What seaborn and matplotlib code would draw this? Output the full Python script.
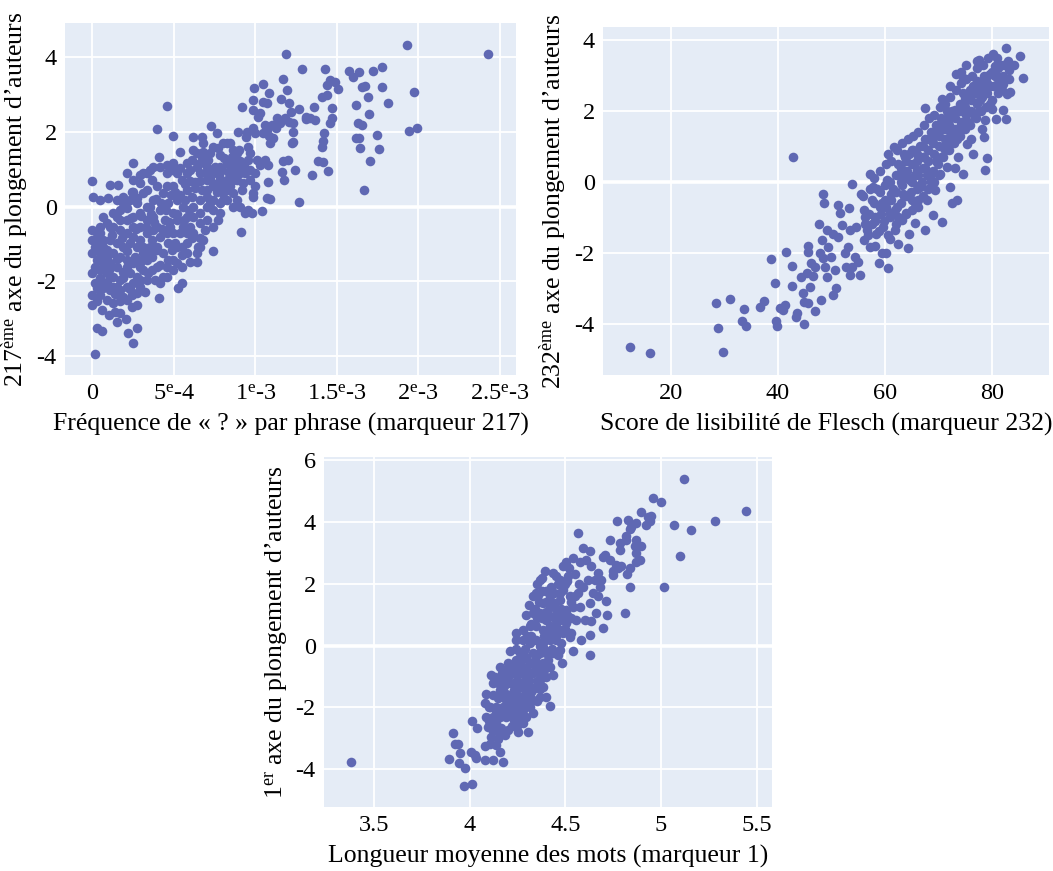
import numpy as np
import pandas as pd
import matplotlib
matplotlib.use("Agg")
import matplotlib.pyplot as plt
import seaborn as sns

# ---------------- data ----------------
# Panel 1: frequency of "?" per sentence (x, in units of 1e-3) vs 217th embedding axis
p1_points_e3 = [
    (1.928, 4.33), (2.429, 4.09), (1.188, 4.09), (1.284, 3.69), (1.427, 3.68), (1.577, 3.63),
    (1.638, 3.62), (1.720, 3.64), (1.775, 3.75), (1.601, 3.46), (1.458, 3.39), (1.489, 3.35),
    (1.505, 3.14), (1.438, 3.26), (1.652, 3.21), (1.673, 3.23), (1.779, 3.20), (1.973, 3.06),
    (1.693, 2.93), (1.812, 2.79), (1.618, 2.72), (1.699, 2.47), (1.632, 2.23), (1.652, 2.19),
    (1.945, 2.03), (1.990, 2.10), (1.748, 1.92), (1.618, 1.85), (1.638, 1.85), (1.644, 1.58),
    (1.759, 1.54), (1.704, 1.21), (1.669, 0.44), (1.407, 2.95), (1.443, 2.99), (1.360, 2.68),
    (1.468, 2.63), (1.472, 2.37), (1.458, 2.23), (1.421, 1.96), (1.413, 1.76), (1.407, 1.61),
    (1.387, 1.21), (1.417, 1.19), (1.448, 0.96), (1.346, 0.85), (1.266, 0.12), (1.311, 2.39),
    (1.335, 2.37), (1.366, 2.32), (1.268, 2.61), (1.313, 2.34), (1.233, 1.99), (1.233, 1.74),
    (1.223, 1.70), (1.202, 1.25), (1.172, 1.21), (1.243, 0.98), (1.162, 0.92), (1.178, 0.71),
    (1.192, 3.13), (1.172, 3.42), (1.155, 2.88), (1.208, 2.79), (1.217, 2.54), (1.182, 2.37),
    (1.131, 2.37), (1.208, 2.28), (1.233, 2.23), (1.151, 2.23), (1.125, 2.10), (1.100, 2.19),
    (1.049, 3.28), (0.992, 3.17), (1.086, 3.04), (0.988, 2.86), (1.049, 2.81), (1.070, 2.77),
    (0.916, 2.66), (0.988, 2.59), (1.029, 2.50), (1.018, 2.41), (0.988, 2.10), (1.059, 2.19),
    (1.070, 2.05), (1.086, 1.88), (1.110, 1.83), (1.090, 1.70), (1.049, 1.96), (0.998, 1.96),
    (0.947, 2.01), (0.896, 2.01), (0.943, 1.86), (0.957, 1.61), (0.967, 1.43), (0.902, 1.52),
    (0.824, 1.70), (0.804, 1.70), (0.763, 1.96), (0.726, 2.16), (0.772, 1.56), (0.783, 1.38),
    (0.742, 1.61), (0.681, 1.70), (0.671, 1.86), (0.620, 1.86), (0.616, 1.52), (0.671, 1.34),
    (0.712, 1.25), (0.753, 1.07), (0.793, 0.98), (0.824, 1.16), (0.865, 1.07), (0.906, 1.21),
    (0.957, 1.25), (1.008, 1.25), (1.059, 1.25), (1.029, 1.12), (1.080, 1.12), (1.080, 0.67),
    (1.070, 0.22), (1.039, -0.11), (1.090, 0.21), (0.988, 0.27), (0.998, 0.54), (0.967, 0.71),
    (0.988, 0.36), (0.957, -0.09), (0.937, -0.16), (0.980, -0.18), (0.910, -0.69), (0.906, 0.00),
    (0.865, 0.00), (0.885, 0.18), (0.865, 0.36), (0.916, 0.45), (0.937, 0.89), (0.906, 0.89),
    (0.865, 0.71), (0.845, 0.98), (0.783, 0.71), (0.793, 0.54), (0.824, 0.45), (0.804, 0.36),
    (0.763, 0.40), (0.742, 0.54), (0.701, 0.71), (0.660, 0.89), (0.640, 1.07), (0.599, 0.98),
    (0.630, 0.67), (0.671, 0.45), (0.701, 0.27), (0.722, 0.09), (0.742, -0.09), (0.773, -0.36),
    (0.742, -0.54), (0.691, -0.63), (0.660, -0.85), (0.650, -1.07), (0.640, -1.47), (0.599, -1.47),
    (0.742, -1.18), (0.681, -0.89), (0.701, -0.36), (0.660, -0.18), (0.620, 0.00), (0.609, 0.27),
    (0.579, 0.45), (0.548, 0.71), (0.538, 1.03), (0.487, 0.98), (0.456, 0.89), (0.415, 1.07),
    (0.411, 1.34), (0.395, 2.08), (0.460, 2.70), (0.493, 1.89), (0.538, 1.47), (0.548, -2.05),
    (0.528, -2.19), (0.548, -1.61), (0.517, -1.52), (0.497, -1.43), (0.487, -1.16), (0.548, -1.29),
    (0.579, -0.98), (0.538, -0.71), (0.558, -0.54), (0.517, -0.36), (0.497, -0.18), (0.466, 0.09),
    (0.436, 0.36), (0.395, 0.54), (0.364, 0.71), (0.354, 0.98), (0.313, 0.89), (0.252, 0.71),
    (0.211, 0.89), (0.247, 1.18), (0.292, 0.85), (0.333, 0.45), (0.374, 0.18), (0.415, -0.09),
    (0.446, -0.36), (0.456, -0.71), (0.466, -0.98), (0.436, -1.25), (0.415, -1.56), (0.456, -1.61),
    (0.411, -2.46), (0.395, -1.16), (0.364, -0.89), (0.374, -0.63), (0.333, -0.36), (0.292, -0.18),
    (0.272, 0.09), (0.231, 0.18), (0.190, 0.27), (0.149, 0.18), (0.108, 0.58), (0.160, 0.58),
    (0.098, 0.22), (0.047, 0.18), (0.006, 0.25), (0.000, 0.69), (0.170, -0.09), (0.211, -0.04),
    (0.252, -0.27), (0.292, -0.54), (0.333, -0.71), (0.354, -1.07), (0.333, -1.43), (0.313, -1.70),
    (0.292, -1.96), (0.323, -2.28), (0.272, -2.32), (0.272, -2.63), (0.272, -3.26), (0.221, -3.39),
    (0.252, -3.66), (0.016, -3.95), (0.027, -3.26), (0.057, -3.33), (0.057, -2.77), (0.102, -2.90),
    (0.139, -2.81), (0.149, -3.08), (0.170, -2.86), (0.207, -3.02), (0.241, -2.68), (0.211, -2.50),
    (0.170, -2.54), (0.129, -2.59), (0.088, -2.50), (0.047, -2.37), (0.000, -2.37), (0.000, -2.63),
    (0.027, -2.54), (-0.004, -1.79), (0.016, -2.05), (0.047, -1.92), (0.088, -2.01), (0.129, -2.14),
    (0.170, -2.23), (0.211, -2.14), (0.252, -2.05), (0.272, -1.88), (0.231, -1.79), (0.190, -1.74),
    (0.149, -1.61), (0.108, -1.52), (0.067, -1.61), (0.027, -1.43), (0.000, -1.25), (0.047, -1.25),
    (0.088, -1.34), (0.129, -1.25), (0.170, -1.34), (0.211, -1.43), (0.252, -1.52), (0.292, -1.61),
    (0.313, -1.25), (0.272, -1.07), (0.231, -0.98), (0.190, -1.07), (0.149, -0.98), (0.108, -0.89),
    (0.067, -0.89), (0.027, -0.80), (0.000, -0.63), (0.000, -0.88), (0.047, -0.54), (0.088, -0.45),
    (0.129, -0.54), (0.170, -0.63), (0.211, -0.71), (0.252, -0.80), (0.292, -0.89), (0.313, -1.07),
    (0.170, -0.36), (0.211, -0.36), (0.252, -0.54), (0.067, -0.27), (0.129, -0.18), (0.241, 0.40),
    (0.313, 0.36), (0.354, 0.00), (0.374, -0.27), (0.395, -0.54), (0.415, -0.80), (0.395, -1.07),
    (0.364, -1.34), (0.364, -1.70), (0.385, -1.96), (0.211, -1.61), (0.170, -1.96), (0.129, -1.88),
    (0.047, -1.70), (0.027, -2.19), (0.067, -2.19), (0.333, 0.00), (0.456, 0.54), (0.497, 0.54),
    (0.517, 0.18), (0.558, 0.00), (0.579, -0.27), (0.599, -0.54), (0.620, -0.71), (0.579, -0.71),
    (0.497, -0.71), (0.476, -0.54), (0.507, -0.98), (0.497, -1.70), (0.436, -1.88), (0.395, -1.61),
    (0.660, 0.18), (0.701, 0.45), (0.742, 0.18), (0.783, 0.09), (0.824, 0.18), (0.845, 0.54),
    (0.865, 0.89), (0.885, 0.71), (0.926, 0.63), (0.967, 0.98), (0.998, 0.89), (0.742, 0.89),
    (0.701, 1.07), (0.660, 1.16), (0.579, 1.16), (0.579, 0.89), (0.517, 0.89), (0.568, 0.18),
    (0.620, -0.27), (0.660, -0.45), (0.701, 0.00), (0.783, -0.18), (0.804, 0.18), (0.824, 0.71),
    (0.855, 1.34), (0.885, 1.43), (0.865, 1.52), (0.845, 1.70), (0.783, 1.07), (0.722, 1.43),
    (0.681, 1.47), (0.640, 1.43), (0.609, 1.25), (0.497, 1.16), (0.456, 1.12), (0.374, 1.07),
    (0.333, 0.89), (0.292, 0.63), (0.252, 0.40), (0.272, 0.22), (0.190, 0.09), (0.149, -0.27),
    (0.108, -0.54), (0.047, -0.71), (0.016, -1.07), (0.016, -1.61), (0.067, -1.07), (0.088, -1.79),
    (0.149, -2.14), (0.108, -2.23), (0.190, -2.41), (0.241, -2.37), (0.292, -2.14), (0.333, -1.96),
    (0.344, -1.79), (0.415, -2.05), (0.456, -1.88), (0.466, -1.43), (0.517, -1.07), (0.548, -1.07),
    (0.579, -1.25), (0.609, -0.85), (0.640, -1.25), (0.660, -1.07),
    (0.03, -1.00), (0.06, -1.45), (0.09, -1.15), (0.12, -0.75), (0.15, -1.40), (0.18, -0.85),
    (0.21, -1.20), (0.24, -0.30), (0.27, -0.60), (0.30, -0.25), (0.33, -0.55), (0.36, -0.20),
    (0.39, 0.20), (0.42, 0.10), (0.45, -0.10), (0.48, 0.30), (0.51, 0.40), (0.54, 0.30),
    (0.57, 0.60), (0.60, 0.70), (0.63, 0.50), (0.66, 0.70), (0.69, 0.90), (0.72, 0.75),
    (0.75, 0.60), (0.78, 0.85), (0.81, 1.30), (0.84, 0.90), (0.87, 1.20), (0.90, 1.00),
    (0.93, 1.10), (0.05, -2.05), (0.10, -1.70), (0.14, -2.35), (0.19, -1.90), (0.23, -2.20),
    (0.26, -1.35), (0.30, -1.45), (0.35, -1.25), (0.38, -0.40), (0.43, -0.60), (0.47, -0.40),
    (0.52, -0.20), (0.56, -0.35), (0.59, -0.10),
]

# Panel 2: Flesch reading-ease score vs 232nd embedding axis
p2_points = [
    (12.3, -4.65), (16.2, -4.84), (29.7, -4.79), (28.4, -3.41), (28.9, -4.13), (31.0, -3.31),
    (33.6, -3.60), (33.3, -3.94), (34.1, -4.08), (36.6, -3.52), (37.4, -3.35), (38.8, -2.19),
    (39.4, -2.86), (39.8, -4.08), (39.6, -3.94), (40.4, -3.57), (40.9, -3.62), (41.3, -3.47),
    (41.5, -1.99), (42.6, -2.38), (42.9, 0.70), (42.7, -2.94), (43.5, -3.69), (43.4, -3.80),
    (44.9, -4.02), (44.9, -3.38), (44.7, -3.13), (44.4, -2.68), (45.4, -2.58), (45.7, -1.97),
    (45.7, -1.81), (46.2, -2.30), (46.0, -2.96), (45.7, -3.43), (46.9, -3.64), (46.9, -2.39),
    (46.5, -2.66), (47.7, -1.20), (47.9, -2.00), (48.5, -0.33), (48.6, -0.59), (48.3, -1.64),
    (48.0, -3.33), (48.5, -2.16), (48.8, -2.39), (49.1, -2.68), (49.1, -1.36), (49.4, -1.83),
    (50.3, -1.46), (50.0, -2.11), (50.7, -2.49), (50.9, -3.00), (50.3, -3.19), (51.3, -1.55),
    (51.3, -0.66), (51.6, -0.89), (51.9, -1.22), (52.5, -2.02), (52.8, -2.39), (53.1, -1.83),
    (53.5, -1.36), (53.3, -0.75), (53.8, -0.07), (53.5, -2.63), (53.9, -2.39), (54.4, -2.11),
    (54.6, -1.27), (55.0, -2.25), (55.3, -2.63), (55.6, -0.33), (56.0, -1.64), (56.3, -0.99),
    (56.6, -1.36), (57.2, 0.23), (57.2, -1.83), (57.5, -0.52), (57.8, -0.14), (58.1, -0.99),
    (58.4, -1.46), (58.8, -2.30), (59.1, -0.70), (59.4, -2.02), (59.7, -1.27), (60.0, -0.52),
    (60.2, -2.02), (60.6, -2.44), (60.3, 0.05), (60.9, -0.89), (61.6, 0.99), (60.6, 0.80),
    (61.2, -0.33), (61.9, -1.36), (62.2, -0.70), (62.5, -1.74), (62.8, 0.23), (63.1, -1.08),
    (63.4, -0.33), (63.7, 0.70), (64.0, -0.89), (64.2, -1.88), (64.4, -1.46), (64.7, 0.05),
    (65.0, -0.52), (65.3, 0.89), (65.6, -1.17), (65.9, 0.33), (66.2, -0.70), (66.5, -0.14),
    (67.2, 0.70), (67.5, -1.36), (67.8, -0.52), (67.5, 2.09), (68.4, 0.14), (68.7, 1.17),
    (69.0, -0.94), (69.3, -0.23), (69.7, 0.61), (70.0, 1.55), (70.3, 0.23), (70.6, -1.13),
    (70.9, 0.99), (70.7, 2.35), (71.5, 0.42), (71.8, 1.74), (72.2, -0.14), (72.5, -0.61),
    (72.8, 1.27), (73.4, -0.52), (73.1, 2.02), (73.3, 3.05), (73.7, 0.70), (74.0, 1.55),
    (74.6, 2.93), (74.6, 0.23), (74.9, 2.30), (75.3, 1.08), (75.9, 2.58), (76.5, 0.80),
    (76.8, 1.83), (77.1, 2.86), (77.6, 3.45), (77.8, 2.30), (78.4, 1.27), (78.7, 0.33),
    (79.1, 0.66), (78.7, 1.74), (79.3, 2.68), (79.6, 3.05), (79.9, 2.07), (80.7, 1.77),
    (80.6, 3.26), (81.5, 2.96), (82.1, 2.02), (82.6, 1.77), (82.6, 3.77), (82.7, 2.49),
    (83.2, 3.15), (83.4, 2.54), (85.1, 3.55), (85.7, 2.93), (82.0, 2.77), (80.9, 2.68),
    (56.0, -0.8), (56.2, -1.2), (55.8, -0.4), (57.0, -0.9), (57.1, -0.2), (56.9, -1.5),
    (58.0, -0.6), (58.2, -1.1), (57.9, 0.1), (58.1, -1.8), (59.0, -0.3), (59.2, -0.9),
    (58.9, -1.4), (59.1, 0.3), (60.0, -0.1), (60.1, -0.7), (59.8, -1.1), (60.2, 0.5),
    (61.0, 0.0), (61.1, -0.5), (60.9, -1.0), (61.2, 0.6), (61.0, -1.6), (62.0, 0.2),
    (62.1, -0.3), (61.9, -0.8), (62.2, 0.9), (62.0, -1.2), (63.0, 0.4), (63.1, -0.1),
    (62.9, -0.6), (63.2, 1.1), (63.0, 0.0), (64.0, 0.6), (64.1, 0.1), (63.9, -0.4),
    (64.2, 1.2), (64.0, -0.9), (64.1, 0.3), (65.0, 0.5), (65.1, 0.0), (64.9, -0.3),
    (65.2, 1.3), (65.0, 0.9), (65.1, -0.8), (66.0, 0.8), (66.1, 0.2), (65.9, -0.2),
    (66.2, 1.4), (66.0, 0.6), (66.1, -0.5), (67.0, 1.0), (67.1, 0.4), (66.9, 0.0),
    (67.2, 1.6), (67.0, 0.7), (67.1, -0.4), (68.0, 1.2), (68.1, 0.6), (67.9, 0.2),
    (68.2, 1.8), (68.0, 0.9), (68.1, -0.2), (69.0, 1.4), (69.1, 0.8), (68.9, 0.3),
    (69.2, 1.9), (69.0, 1.1), (69.1, 0.0), (70.0, 1.5), (70.1, 1.0), (69.9, 0.5),
    (70.2, 2.1), (70.0, 1.3), (70.1, 0.2), (71.0, 1.7), (71.1, 1.2), (70.9, 0.7),
    (71.2, 2.2), (71.0, 1.5), (71.1, 0.9), (72.0, 1.9), (72.1, 1.4), (71.9, 0.9),
    (72.2, 2.4), (72.0, 1.6), (72.1, 2.7), (73.0, 2.0), (73.1, 1.5), (72.9, 1.1),
    (73.2, 2.6), (73.0, 1.8), (73.1, 0.4), (74.0, 2.2), (74.1, 1.7), (73.9, 1.3),
    (74.2, 2.8), (74.0, 2.0), (74.1, 3.1), (75.0, 2.4), (75.1, 1.9), (74.9, 1.5),
    (75.2, 2.9), (75.0, 2.1), (75.1, 3.3), (76.0, 2.5), (76.1, 2.0), (75.9, 1.6),
    (76.2, 3.0), (76.0, 2.3), (76.1, 1.2), (77.0, 2.7), (77.1, 2.2), (76.9, 1.8),
    (77.2, 3.2), (77.0, 2.5), (77.1, 3.4), (78.0, 2.8), (78.1, 2.4), (77.9, 2.0),
    (78.2, 3.3), (78.0, 2.6), (78.1, 1.5), (79.0, 3.0), (79.1, 2.5), (78.9, 2.1),
    (79.2, 3.5), (79.0, 2.8), (80.0, 3.1), (80.1, 2.7), (79.9, 2.3), (80.2, 3.6),
    (81.0, 3.2), (81.1, 2.8), (80.9, 3.5), (81.0, 2.5), (82.0, 3.3), (82.1, 3.0),
    (81.9, 2.6), (83.0, 3.4), (83.1, 2.9), (84.0, 3.3),
    (60.5, -1.5), (61.5, -0.2), (62.5, 0.5), (63.5, -0.4), (64.5, 0.8), (65.5, 0.2),
    (66.5, 1.0), (67.5, 0.4), (68.5, 1.4), (69.5, 0.6), (70.5, 1.8), (71.5, 1.0),
    (72.5, 2.0), (73.5, 1.2), (74.5, 2.5), (75.5, 1.7), (76.5, 2.7), (77.5, 2.0),
    (78.5, 3.0), (79.5, 2.2), (80.5, 3.0), (81.5, 3.3), (65.5, -0.6), (66.5, -0.1),
    (67.5, 1.2), (68.5, 0.0), (69.5, 1.6), (70.5, 0.7), (71.5, 2.0), (72.5, 1.2),
    (59.5, -0.6), (58.5, -0.2), (57.5, -1.2), (62.5, -1.0), (63.5, 0.8),
]

# Panel 3: mean word length vs 1st embedding axis
p3_points = [
    (3.378, -3.76), (3.890, -3.68), (3.913, -2.82), (3.922, -3.19), (3.939, -3.19), (3.948, -3.46),
    (3.944, -3.79), (3.974, -3.95), (3.969, -4.55), (4.014, -4.46), (4.012, -2.44), (4.009, -3.44),
    (4.026, -3.55), (4.035, -3.65), (4.038, -2.65),
    (5.120, 5.39), (4.958, 4.76), (4.998, 4.64), (5.442, 4.35), (5.280, 4.02), (5.066, 3.91),
    (5.155, 3.75), (5.098, 2.89), (5.014, 1.88), (4.897, 4.31), (4.932, 4.16), (4.950, 4.18),
    (4.941, 4.02), (4.920, 3.91), (4.871, 3.97), (4.828, 4.05), (4.772, 4.02), (4.845, 3.84),
    (4.836, 3.77), (4.815, 3.54), (4.819, 3.43), (4.868, 3.43), (4.897, 3.23), (4.862, 3.21),
    (4.871, 2.99), (4.889, 2.76), (4.871, 2.72), (4.784, 3.32), (4.784, 3.10), (4.735, 3.41),
    (4.706, 2.94), (4.697, 2.86), (4.732, 2.78), (4.767, 2.62), (4.775, 2.51), (4.793, 2.56),
    (4.836, 2.51), (4.749, 2.40), (4.749, 2.29), (4.821, 2.32), (4.836, 1.88), (4.810, 1.05),
    (4.566, 3.64), (4.688, 2.11), (4.714, 1.43), (4.718, 0.99), (4.697, 0.56), (4.627, -0.30),
    (4.484, -0.57), (4.418, -1.95), (4.627, 0.35), (4.584, 0.18), (4.601, 0.83), (4.636, 0.78),
    (4.627, 1.37), (4.645, 1.70), (4.662, 1.05), (4.671, 1.59), (4.679, 1.91), (4.653, 2.13),
    (4.671, 2.35), (4.636, 2.56), (4.618, 2.13), (4.592, 1.91), (4.566, 1.70), (4.575, 1.26),
    (4.557, 0.83), (4.531, 0.40), (4.540, -0.19), (4.627, 3.05), (4.592, 3.16), (4.610, 2.78),
    (4.575, 2.72), (4.540, 2.83), (4.505, 2.72), (4.488, 2.56), (4.514, 2.24), (4.470, 2.13),
    (4.453, 2.24), (4.436, 2.35), (4.392, 2.40), (4.366, 2.13), (4.427, 1.91), (4.401, 1.75),
    (4.348, 1.70), (4.357, 1.64), (4.488, 1.81), (4.523, 1.59), (4.540, 1.26), (4.505, 1.16),
    (4.470, 1.48), (4.444, 1.37), (4.418, 1.26), (4.383, 1.37), (4.366, 1.05), (4.331, 1.05),
    (4.296, 0.99), (4.401, 0.83), (4.436, 0.94), (4.470, 0.83), (4.505, 0.72), (4.523, 0.29),
    (4.488, 0.40), (4.453, 0.51), (4.418, 0.62), (4.383, 0.51), (4.348, 0.62), (4.314, 0.62),
    (4.279, 0.51), (4.244, 0.40), (4.240, 0.18), (4.279, 0.18), (4.314, 0.08), (4.348, 0.18),
    (4.383, 0.08), (4.418, 0.18), (4.453, 0.18), (4.470, -0.14), (4.436, -0.25), (4.401, -0.25),
    (4.366, -0.25), (4.331, -0.25), (4.296, -0.36), (4.261, -0.25), (4.209, -0.19), (4.244, -0.46),
    (4.279, -0.68), (4.314, -0.57), (4.348, -0.68), (4.383, -0.57), (4.418, -0.68), (4.436, -0.95),
    (4.401, -1.01), (4.366, -0.90), (4.331, -0.90), (4.296, -1.01), (4.261, -0.90), (4.226, -0.90),
    (4.192, -0.78), (4.157, -0.68), (4.174, -1.11), (4.209, -1.22), (4.244, -1.33), (4.279, -1.22),
    (4.314, -1.33), (4.348, -1.33), (4.383, -1.33), (4.401, -1.66), (4.366, -1.66), (4.331, -1.76),
    (4.296, -1.65), (4.261, -1.65), (4.226, -1.65), (4.192, -1.55), (4.157, -1.44), (4.122, -1.22),
    (4.113, -0.95), (4.087, -1.55), (4.078, -1.87), (4.105, -1.98), (4.139, -1.98), (4.174, -1.98),
    (4.209, -1.98), (4.244, -1.98), (4.279, -2.09), (4.314, -1.98), (4.331, -2.19), (4.296, -2.30),
    (4.261, -2.41), (4.226, -2.30), (4.192, -2.30), (4.157, -2.30), (4.122, -2.30), (4.087, -2.30),
    (4.096, -2.63), (4.131, -2.63), (4.166, -2.68), (4.201, -2.74), (4.253, -2.79), (4.305, -2.79),
    (4.113, -2.95), (4.148, -3.01), (4.183, -2.90), (4.105, -3.17), (4.139, -3.22), (4.157, -3.44),
    (4.078, -3.24), (4.082, -3.71), (4.122, -3.71), (4.174, -3.76),
    (4.310, 1.30), (4.330, 1.60), (4.350, 2.00), (4.380, 2.20), (4.400, 1.10), (4.420, 1.60),
    (4.460, 1.00), (4.480, 1.20), (4.500, 2.00), (4.520, 2.50), (4.450, 0.70), (4.430, 0.30),
    (4.390, 0.30), (4.350, 0.90), (4.320, 0.30), (4.290, -0.10), (4.270, -0.50), (4.300, -0.80),
    (4.340, -0.45), (4.370, -1.10), (4.320, -1.50), (4.250, -1.10), (4.230, -1.45), (4.200, -0.55),
    (4.180, -1.30), (4.150, -1.70), (4.140, -2.10), (4.190, -2.10), (4.220, -2.60), (4.270, -1.85),
    (4.240, -2.15), (4.120, -1.60), (4.100, -2.45), (4.160, -2.90), (4.280, -2.50), (4.350, -1.15),
    (4.410, -0.45), (4.460, -0.30), (4.480, 0.10), (4.500, 0.55), (4.420, 0.95), (4.380, 1.75),
    (4.19, -1.75), (4.21, -1.60), (4.23, -1.85), (4.25, -1.40), (4.27, -1.20), (4.29, -1.45),
    (4.31, -1.10), (4.33, -0.60), (4.35, -0.30), (4.37, 0.00), (4.39, -0.10), (4.41, 0.40),
    (4.43, 0.60), (4.45, 1.20), (4.47, 1.70), (4.49, 1.90), (4.51, 2.10), (4.53, 1.40),
    (4.55, 2.30), (4.57, 2.00), (4.26, -0.70), (4.28, -0.30), (4.30, 0.30), (4.32, 0.70),
    (4.34, 1.20), (4.36, 1.40), (4.38, 0.90), (4.40, 1.40), (4.42, 1.40), (4.44, 1.70),
    (4.46, 2.00), (4.24, -0.10), (4.22, -0.70), (4.20, -1.00), (4.18, -1.60), (4.16, -2.20),
    (4.14, -2.50), (4.12, -2.75), (4.10, -2.00), (4.13, -1.00), (4.15, -1.20), (4.17, -0.90),
    (4.21, -2.10), (4.23, -2.40), (4.25, -2.60), (4.27, -2.20), (4.29, -2.00), (4.31, -1.80),
    (4.33, -1.40), (4.35, -1.80), (4.37, -1.40), (4.39, -0.80), (4.41, -0.20), (4.43, -0.10),
    (4.45, 0.30), (4.47, 0.50), (4.49, 0.90), (4.51, 1.00), (4.53, 0.90), (4.55, 1.60),
]

sub_ord = {"217": "ème", "232": "ème", "1": "er"}
x_labels = ["Fréquence de « ? » par phrase (marqueur 217)",
            "Score de lisibilité de Flesch (marqueur 232)",
            "Longueur moyenne des mots (marqueur 1)"]
y_label_tail = "axe du plongement d’auteurs"

p1_xticks = [0, 5e-4, 1e-3, 1.5e-3, 2e-3, 2.5e-3]
p1_xticklabels = ["0", "5$^{\\mathrm{e}}$-4", "1$^{\\mathrm{e}}$-3", "1.5$^{\\mathrm{e}}$-3",
                  "2$^{\\mathrm{e}}$-3", "2.5$^{\\mathrm{e}}$-3"]
p1_yticks = [-4, -2, 0, 2, 4]
p2_xticks = [20, 40, 60, 80]
p2_yticks = [-4, -2, 0, 2, 4]
p3_xticks = [3.5, 4, 4.5, 5, 5.5]
p3_yticks = [-4, -2, 0, 2, 4, 6]

# ---------------- styling ----------------
BG = "#E5ECF6"
DOT = "#5F68B3"
FONT = "Liberation Serif"

plt.rcParams["font.family"] = [FONT, "DejaVu Serif"]
plt.rcParams["mathtext.fontset"] = "custom"
plt.rcParams["mathtext.rm"] = FONT
plt.rcParams["mathtext.it"] = FONT + ":italic"
plt.rcParams["mathtext.bf"] = FONT + ":bold"

W, H = 1053, 871
fig = plt.figure(figsize=(W / 100, H / 100), dpi=100)


def ax_at(left, top, right, bottom):
    return fig.add_axes([left / W, 1 - bottom / H, (right - left) / W, (bottom - top) / H])


def style(ax, xlim, ylim, xticks, xticklabels, yticks, xlabel, ylabel):
    ax.set_facecolor(BG)
    for sp in ax.spines.values():
        sp.set_visible(False)
    ax.set_xlim(*xlim)
    ax.set_ylim(*ylim)
    ax.set_xticks(xticks)
    ax.set_xticklabels(xticklabels)
    ax.set_yticks(yticks)
    ax.set_yticklabels(["%g" % v for v in yticks])
    ax.grid(True, color="white", linewidth=1.3)
    ax.set_axisbelow(True)
    ax.axhline(0, color="white", linewidth=2.6, zorder=0.5)
    ax.tick_params(length=0, labelsize=17.5, pad=6)
    ax.set_xlabel(xlabel, fontsize=18.5, labelpad=6)
    ax.set_ylabel(ylabel, fontsize=18.5, labelpad=4)


def scatter(ax, pts, xscale=1.0):
    df = pd.DataFrame(pts, columns=["x", "y"])
    df["x"] = df["x"] * xscale
    sns.scatterplot(data=df, x="x", y="y", ax=ax, color=DOT, s=48, linewidth=0,
                    alpha=1.0, zorder=3, legend=False)


ax1 = ax_at(65, 23, 516, 375)
scatter(ax1, p1_points_e3, 1e-3)
style(ax1, (-0.168e-3, 2.6e-3), (-4.51, 4.92), p1_xticks, p1_xticklabels, p1_yticks,
      x_labels[0], "217$^{\\mathrm{" + sub_ord["217"] + "}}$ " + y_label_tail)

ax2 = ax_at(603, 27, 1049, 375)
scatter(ax2, p2_points)
style(ax2, (7.35, 90.6), (-5.45, 4.37), p2_xticks, [str(v) for v in p2_xticks], p2_yticks,
      x_labels[1], "232$^{\\mathrm{" + sub_ord["232"] + "}}$ " + y_label_tail)

ax3 = ax_at(324, 457, 772, 807)
scatter(ax3, p3_points)
style(ax3, (3.239, 5.58), (-5.22, 6.1), p3_xticks, ["%g" % v for v in p3_xticks], p3_yticks,
      x_labels[2], "1$^{\\mathrm{" + sub_ord["1"] + "}}$ " + y_label_tail)

fig.savefig("out.png", dpi=100, facecolor="white")
